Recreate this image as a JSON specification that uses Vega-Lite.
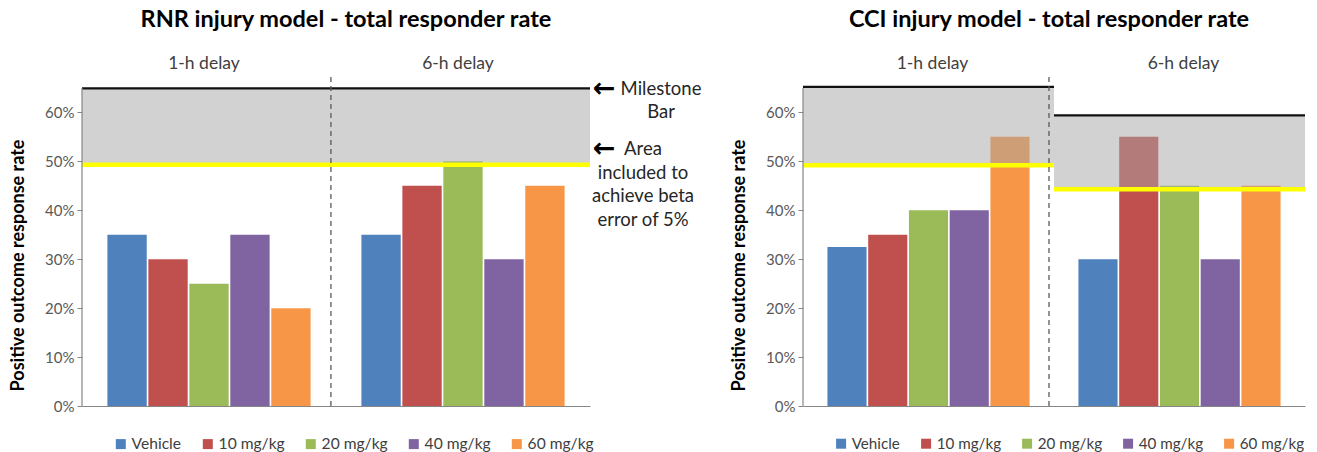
{
  "$schema": "https://vega.github.io/schema/vega-lite/v6.json",
  "padding": {"left": 9, "top": 8, "right": 0, "bottom": 0},
  "spacing": 213,
  "bounds": "flush",
  "config": {
    "view": {"stroke": null},
    "font": "Lato",
    "axis": {"labelFont": "Lato", "titleFont": "Lato"},
    "legend": {"labelFont": "Lato"},
    "title": {"font": "Lato"}
  },
  "resolve": {
    "scale": {"x": "independent", "color": "independent", "xOffset": "independent"},
    "legend": {"color": "independent"}
  },
  "datasets": {
    "rnr": [
      {"delay": "1-h delay", "dose": "Vehicle", "rate": 0.35},
      {"delay": "1-h delay", "dose": "10 mg/kg", "rate": 0.30},
      {"delay": "1-h delay", "dose": "20 mg/kg", "rate": 0.25},
      {"delay": "1-h delay", "dose": "40 mg/kg", "rate": 0.35},
      {"delay": "1-h delay", "dose": "60 mg/kg", "rate": 0.20},
      {"delay": "6-h delay", "dose": "Vehicle", "rate": 0.35},
      {"delay": "6-h delay", "dose": "10 mg/kg", "rate": 0.45},
      {"delay": "6-h delay", "dose": "20 mg/kg", "rate": 0.50},
      {"delay": "6-h delay", "dose": "40 mg/kg", "rate": 0.30},
      {"delay": "6-h delay", "dose": "60 mg/kg", "rate": 0.45}
    ],
    "cci": [
      {"delay": "1-h delay", "dose": "Vehicle", "rate": 0.325},
      {"delay": "1-h delay", "dose": "10 mg/kg", "rate": 0.35},
      {"delay": "1-h delay", "dose": "20 mg/kg", "rate": 0.40},
      {"delay": "1-h delay", "dose": "40 mg/kg", "rate": 0.40},
      {"delay": "1-h delay", "dose": "60 mg/kg", "rate": 0.55},
      {"delay": "6-h delay", "dose": "Vehicle", "rate": 0.30},
      {"delay": "6-h delay", "dose": "10 mg/kg", "rate": 0.55},
      {"delay": "6-h delay", "dose": "20 mg/kg", "rate": 0.45},
      {"delay": "6-h delay", "dose": "40 mg/kg", "rate": 0.30},
      {"delay": "6-h delay", "dose": "60 mg/kg", "rate": 0.45}
    ],
    "areas_rnr": [
      {"delay": "1-h delay", "lo": 0.493, "hi": 0.649},
      {"delay": "6-h delay", "lo": 0.493, "hi": 0.649}
    ],
    "areas_cci": [
      {"delay": "1-h delay", "lo": 0.492, "hi": 0.652},
      {"delay": "6-h delay", "lo": 0.443, "hi": 0.594}
    ],
    "delays": [
      {"delay": "1-h delay"},
      {"delay": "6-h delay"}
    ],
    "notes": [
      {"key": "milestone", "note": ["Milestone", "Bar"], "rate": 0.646},
      {"key": "area", "note": ["Area", "included to", "achieve beta", "error of 5%"], "rate": 0.5235}
    ]
  },
  "hconcat": [
    {
      "width": 508,
      "height": 367,
      "title": {"text": "RNR injury model - total responder rate", "fontSize": 23.5, "fontWeight": "bold", "color": "#000000", "anchor": "middle", "dx": 10, "offset": 7.5},
      "layer": [
        {
          "data": {"name": "rnr"},
          "mark": {"type": "bar"},
          "encoding": {
            "x": {"field": "delay", "type": "nominal", "scale": {"domain": ["1-h delay", "6-h delay"], "paddingInner": 0, "paddingOuter": 0}, "axis": {"labels": false, "ticks": false, "title": null, "domainColor": "#868686", "domainWidth": 1.2}},
            "xOffset": {"field": "dose", "type": "nominal", "sort": ["Vehicle", "10 mg/kg", "20 mg/kg", "40 mg/kg", "60 mg/kg"], "scale": {"paddingInner": 0.04, "paddingOuter": 0.62}},
            "y": {"field": "rate", "type": "quantitative", "scale": {"domain": [0, 0.75], "nice": false}, "axis": {"values": [0, 0.1, 0.2, 0.3, 0.4, 0.5, 0.6], "format": ".0%", "title": "Positive outcome response rate", "titleFontSize": 18, "titleFontWeight": "bold", "titleColor": "#000000", "titleX": -55, "titleY": 226, "domain": false, "grid": false, "tickColor": "#868686", "tickSize": 5, "labelFontSize": 15, "labelColor": "#595959", "labelPadding": 3}},
            "color": {"field": "dose", "type": "nominal", "scale": {"domain": ["Vehicle", "10 mg/kg", "20 mg/kg", "40 mg/kg", "60 mg/kg"], "range": ["#4F81BD", "#C0504D", "#9BBB59", "#8064A2", "#F79646"]}, "legend": {"orient": "none", "direction": "horizontal", "legendX": 31, "legendY": 397, "title": null, "symbolType": "square", "symbolSize": 100, "symbolStrokeWidth": 0, "labelFontSize": 15.6, "labelColor": "#404040", "columnPadding": 18, "labelOffset": 3}}
          }
        },
        {
          "data": {"name": "areas_rnr"},
          "mark": {"type": "rect", "color": "#A6A6A6", "opacity": 0.5},
          "encoding": {
            "x": {"field": "delay", "type": "nominal"},
            "y": {"field": "lo", "type": "quantitative"},
            "y2": {"field": "hi"}
          }
        },
        {
          "data": {"name": "areas_rnr"},
          "mark": {"type": "rect", "fill": "#FFFF00", "stroke": "#FFFF00", "strokeWidth": 4.5},
          "encoding": {
            "x": {"field": "delay", "type": "nominal"},
            "y": {"field": "lo", "type": "quantitative"},
            "y2": {"field": "lo"}
          }
        },
        {
          "data": {"name": "areas_rnr"},
          "mark": {"type": "rect", "fill": "#111111", "stroke": "#111111", "strokeWidth": 2.2},
          "encoding": {
            "x": {"field": "delay", "type": "nominal"},
            "y": {"field": "hi", "type": "quantitative"},
            "y2": {"field": "hi"}
          }
        },
        {
          "data": {"values": [{}]},
          "mark": {"type": "rule", "color": "#595959", "strokeDash": [5, 4], "strokeWidth": 1.3},
          "encoding": {
            "x": {"datum": "1-h delay", "type": "nominal", "bandPosition": 0.98},
            "y": {"datum": 0, "type": "quantitative"},
            "y2": {"datum": 0.68}
          }
        },
        {
          "data": {"values": [{}]},
          "mark": {"type": "rule", "color": "#868686", "strokeWidth": 1.2},
          "encoding": {
            "x": {"datum": "1-h delay", "type": "nominal", "bandPosition": 0},
            "y": {"datum": 0, "type": "quantitative"},
            "y2": {"datum": 0.65}
          }
        },
        {
          "data": {"name": "delays"},
          "mark": {"type": "text", "fontSize": 17.5, "color": "#404040", "baseline": "middle", "dy": 1, "dx": -5},
          "encoding": {
            "x": {"field": "delay", "type": "nominal"},
            "y": {"datum": 0.7, "type": "quantitative"},
            "text": {"field": "delay"}
          }
        },
        {
          "data": {"name": "notes"},
          "mark": {"type": "text", "text": "←", "font": "DejaVu Sans", "fontWeight": "bold", "fontSize": 27, "color": "#000000", "align": "center", "baseline": "middle", "dx": 14, "dy": -1, "clip": false},
          "encoding": {
            "x": {"datum": "6-h delay", "type": "nominal", "bandPosition": 1},
            "y": {"field": "rate", "type": "quantitative"}
          }
        },
        {
          "data": {"name": "notes"},
          "transform": [{"filter": "datum.key === 'milestone'"}],
          "mark": {"type": "text", "fontSize": 18.5, "color": "#262626", "align": "center", "baseline": "top", "dx": 71, "dy": -10, "lineHeight": 23.5, "clip": false},
          "encoding": {
            "x": {"datum": "6-h delay", "type": "nominal", "bandPosition": 1},
            "y": {"field": "rate", "type": "quantitative"},
            "text": {"field": "note"}
          }
        },
        {
          "data": {"name": "notes"},
          "transform": [{"filter": "datum.key === 'area'"}],
          "mark": {"type": "text", "fontSize": 18.5, "color": "#262626", "align": "center", "baseline": "top", "dx": 53, "dy": -10, "lineHeight": 23.8, "clip": false},
          "encoding": {
            "x": {"datum": "6-h delay", "type": "nominal", "bandPosition": 1},
            "y": {"field": "rate", "type": "quantitative"},
            "text": {"field": "note"}
          }
        }
      ]
    },
    {
      "width": 502,
      "height": 367,
      "title": {"text": "CCI injury model - total responder rate", "fontSize": 23.5, "fontWeight": "bold", "color": "#000000", "anchor": "middle", "dx": -5, "offset": 7.5},
      "layer": [
        {
          "data": {"name": "cci"},
          "mark": {"type": "bar"},
          "encoding": {
            "x": {"field": "delay", "type": "nominal", "scale": {"domain": ["1-h delay", "6-h delay"], "paddingInner": 0, "paddingOuter": 0}, "axis": {"labels": false, "ticks": false, "title": null, "domainColor": "#868686", "domainWidth": 1.2}},
            "xOffset": {"field": "dose", "type": "nominal", "sort": ["Vehicle", "10 mg/kg", "20 mg/kg", "40 mg/kg", "60 mg/kg"], "scale": {"paddingInner": 0.04, "paddingOuter": 0.6}},
            "y": {"field": "rate", "type": "quantitative", "scale": {"domain": [0, 0.75], "nice": false}, "axis": {"values": [0, 0.1, 0.2, 0.3, 0.4, 0.5, 0.6], "format": ".0%", "title": "Positive outcome response rate", "titleFontSize": 18, "titleFontWeight": "bold", "titleColor": "#000000", "titleX": -55, "titleY": 226, "domain": false, "grid": false, "tickColor": "#868686", "tickSize": 5, "labelFontSize": 15, "labelColor": "#595959", "labelPadding": 3}},
            "color": {"field": "dose", "type": "nominal", "scale": {"domain": ["Vehicle", "10 mg/kg", "20 mg/kg", "40 mg/kg", "60 mg/kg"], "range": ["#4F81BD", "#C0504D", "#9BBB59", "#8064A2", "#F79646"]}, "legend": {"orient": "none", "direction": "horizontal", "legendX": 30.5, "legendY": 397, "title": null, "symbolType": "square", "symbolSize": 100, "symbolStrokeWidth": 0, "labelFontSize": 15.2, "labelColor": "#404040", "columnPadding": 18, "labelOffset": 3}}
          }
        },
        {
          "data": {"name": "areas_cci"},
          "mark": {"type": "rect", "color": "#A6A6A6", "opacity": 0.5},
          "encoding": {
            "x": {"field": "delay", "type": "nominal"},
            "y": {"field": "lo", "type": "quantitative"},
            "y2": {"field": "hi"}
          }
        },
        {
          "data": {"name": "areas_cci"},
          "mark": {"type": "rect", "fill": "#FFFF00", "stroke": "#FFFF00", "strokeWidth": 4.5},
          "encoding": {
            "x": {"field": "delay", "type": "nominal"},
            "y": {"field": "lo", "type": "quantitative"},
            "y2": {"field": "lo"}
          }
        },
        {
          "data": {"name": "areas_cci"},
          "mark": {"type": "rect", "fill": "#111111", "stroke": "#111111", "strokeWidth": 2.2},
          "encoding": {
            "x": {"field": "delay", "type": "nominal"},
            "y": {"field": "hi", "type": "quantitative"},
            "y2": {"field": "hi"}
          }
        },
        {
          "data": {"values": [{}]},
          "mark": {"type": "rule", "color": "#595959", "strokeDash": [5, 4], "strokeWidth": 1.3},
          "encoding": {
            "x": {"datum": "1-h delay", "type": "nominal", "bandPosition": 0.98},
            "y": {"datum": 0, "type": "quantitative"},
            "y2": {"datum": 0.68}
          }
        },
        {
          "data": {"values": [{}]},
          "mark": {"type": "rule", "color": "#868686", "strokeWidth": 1.2},
          "encoding": {
            "x": {"datum": "1-h delay", "type": "nominal", "bandPosition": 0},
            "y": {"datum": 0, "type": "quantitative"},
            "y2": {"datum": 0.65}
          }
        },
        {
          "data": {"name": "delays"},
          "mark": {"type": "text", "fontSize": 17.5, "color": "#404040", "baseline": "middle", "dy": 1, "dx": 4},
          "encoding": {
            "x": {"field": "delay", "type": "nominal"},
            "y": {"datum": 0.7, "type": "quantitative"},
            "text": {"field": "delay"}
          }
        }
      ]
    }
  ]
}
